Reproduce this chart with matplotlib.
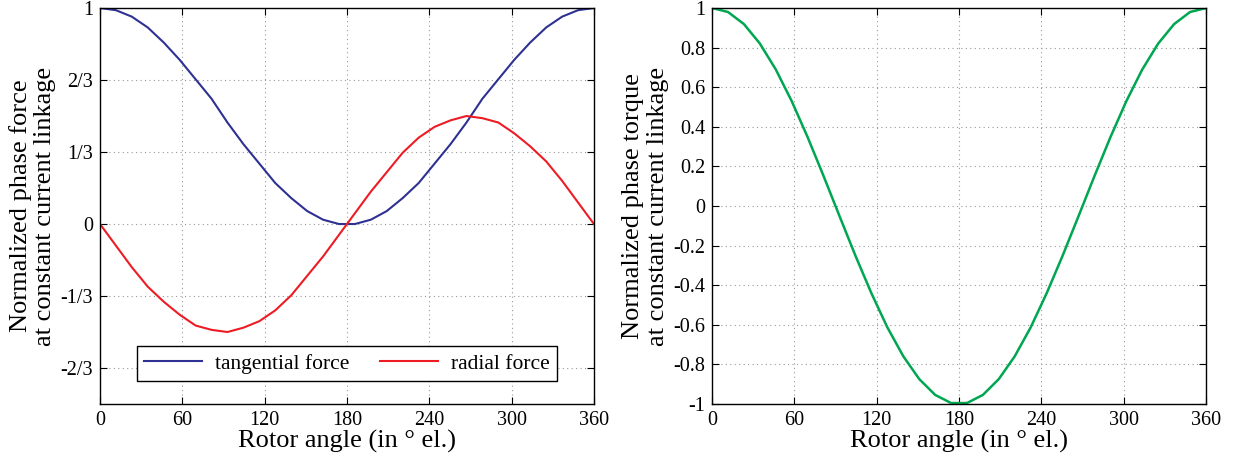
#!/usr/bin/env python3
import matplotlib
matplotlib.use("Agg")
import matplotlib.pyplot as plt
from matplotlib.ticker import FormatStrFormatter

# ======== Data ========
angle = [0.0, 11.6, 23.2, 34.8, 46.5, 58.1, 69.7, 81.3, 92.9, 104.5, 116.1,
         127.7, 139.4, 151.0, 162.6, 174.2, 185.8, 197.4, 209.0, 220.6, 232.3,
         243.9, 255.5, 267.1, 278.7, 290.3, 301.9, 313.5, 325.2, 336.8, 348.4, 360.0]

tangential = [1.00, 0.99, 0.96, 0.91, 0.84, 0.76, 0.67, 0.58, 0.47, 0.37, 0.28,
              0.19, 0.12, 0.06, 0.02, 0.00, 0.00, 0.02, 0.06, 0.12, 0.19,
              0.28, 0.37, 0.47, 0.58, 0.67, 0.76, 0.84, 0.91, 0.96, 0.99, 1.00]

radial = [0.00, -0.10, -0.20, -0.29, -0.36, -0.42, -0.47, -0.49, -0.50, -0.48, -0.45,
          -0.40, -0.33, -0.24, -0.15, -0.05, 0.05, 0.15, 0.24, 0.33, 0.40,
          0.45, 0.48, 0.50, 0.49, 0.47, 0.42, 0.36, 0.29, 0.20, 0.10, 0.00]

torque = [1.000, 0.980, 0.919, 0.821, 0.689, 0.529, 0.347, 0.151, -0.051, -0.251, -0.440,
          -0.612, -0.759, -0.874, -0.954, -0.995, -0.995, -0.954, -0.874, -0.759, -0.612,
          -0.440, -0.251, -0.051, 0.151, 0.347, 0.529, 0.689, 0.821, 0.919, 0.980, 1.000]

x_ticks = [0, 60, 120, 180, 240, 300, 360]
force_ticks = [1, 2 / 3, 1 / 3, 0, -1 / 3, -2 / 3]
force_labels = ["1", "2/3", "1/3", "0", "-1/3", "-2/3"]
torque_ticks = [-1, -0.8, -0.6, -0.4, -0.2, 0, 0.2, 0.4, 0.6, 0.8, 1]

BLUE = "#2e3192"
RED = "#ed1c24"
GREEN = "#00a651"

plt.rcParams["font.family"] = ["Liberation Serif", "DejaVu Serif"]
plt.rcParams["axes.unicode_minus"] = False

TICK_FS = 14.5
LABEL_FS = 19


def style_axes(ax):
    ax.set_xlim(0, 360)
    ax.set_xticks(x_ticks)
    ax.grid(True, linestyle=(0, (1, 3)), color="#999999", linewidth=0.8)
    ax.tick_params(direction="in", top=True, right=True, length=5,
                   labelsize=TICK_FS, pad=5)
    ax.set_xlabel("Rotor angle (in \u00b0 el.)", fontsize=LABEL_FS, labelpad=0)
    for sp in ax.spines.values():
        sp.set_linewidth(1.0)


def main():
    fig = plt.figure(figsize=(12.33, 4.61), dpi=100)

    # left panel: forces
    ax1 = fig.add_axes([0.0811, 0.1236, 0.4006, 0.859])
    ax1.plot(angle, tangential, color=BLUE, lw=1.5, label="tangential force")
    ax1.plot(angle, radial, color=RED, lw=1.5, label="radial force")
    style_axes(ax1)
    ax1.set_ylim(-5 / 6, 1)
    ax1.set_yticks(force_ticks)
    ax1.set_yticklabels(force_labels)
    ax1.set_ylabel("Normalized phase force\nat constant current linkage",
                   fontsize=LABEL_FS, labelpad=3, linespacing=1.15)
    leg = ax1.legend(loc="lower center", ncol=2, fontsize=15.5, fancybox=False,
                     edgecolor="black", framealpha=1, borderpad=0.35,
                     columnspacing=1.4, handlelength=2.7, handletextpad=0.6,
                     bbox_to_anchor=(0.5, 0.03))
    leg.get_frame().set_linewidth(1.0)

    # right panel: torque
    ax2 = fig.add_axes([0.5775, 0.1236, 0.4006, 0.859])
    ax2.plot(angle, torque, color=GREEN, lw=1.8)
    style_axes(ax2)
    ax2.set_ylim(-1, 1)
    ax2.set_yticks(torque_ticks)
    ax2.yaxis.set_major_formatter(FormatStrFormatter("%g"))
    ax2.set_ylabel("Normalized phase torque\nat constant current linkage",
                   fontsize=LABEL_FS, labelpad=3, linespacing=1.15)

    fig.savefig("out.png", dpi=100)


if __name__ == "__main__":
    main()
